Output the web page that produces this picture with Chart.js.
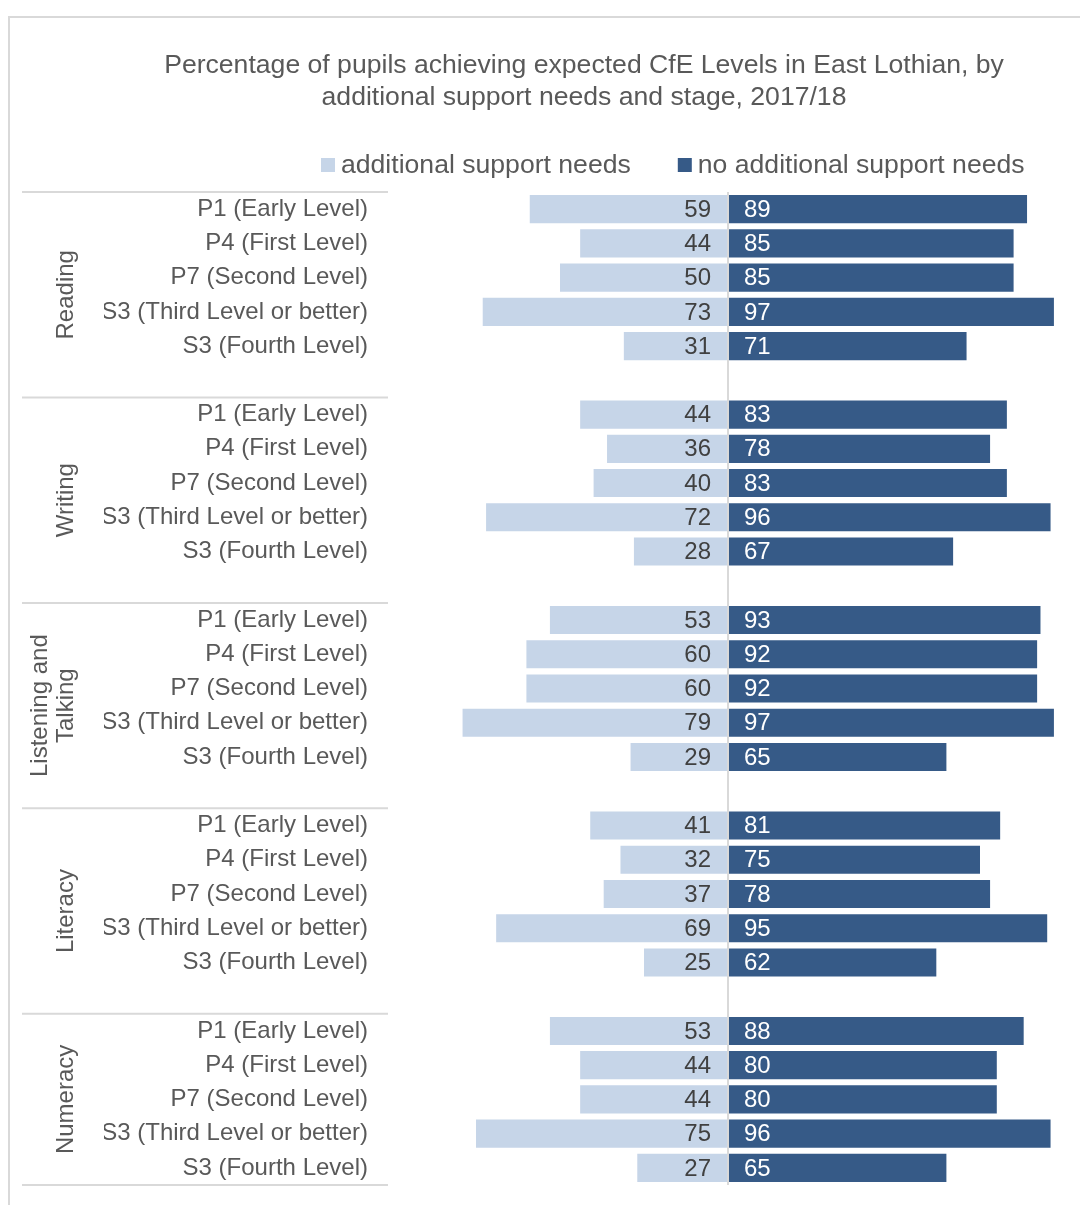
<!DOCTYPE html>
<html>
<head>
<meta charset="utf-8">
<script src="https://cdn.jsdelivr.net/npm/chart.js@4.4.1/dist/chart.umd.min.js"></script>
<style>
  html, body { margin: 0; padding: 0; background: #fff; }
</style>
</head>
<body>
<canvas id="cfeChart" width="1080" height="1205"></canvas>
<script>
const FONT = "'Liberation Sans', Arial, sans-serif";

const groups = ['Reading', 'Writing', ['Listening and', 'Talking'], 'Literacy', 'Numeracy'];
const stages = ['P1 (Early Level)', 'P4 (First Level)', 'P7 (Second Level)', 'S3 (Third Level or better)', 'S3 (Fourth Level)'];

// one row of 5 stages per group
const asnReading = [59, 44, 50, 73, 31];
const asnWriting = [44, 36, 40, 72, 28];
const asnListening = [53, 60, 60, 79, 29];
const asnLiteracy = [41, 32, 37, 69, 25];
const asnNumeracy = [53, 44, 44, 75, 27];

const noAsnReading = [89, 85, 85, 97, 71];
const noAsnWriting = [83, 78, 83, 96, 67];
const noAsnListening = [93, 92, 92, 97, 65];
const noAsnLiteracy = [81, 75, 78, 95, 62];
const noAsnNumeracy = [88, 80, 80, 96, 65];

const asnByGroup = [asnReading, asnWriting, asnListening, asnLiteracy, asnNumeracy];
const noAsnByGroup = [noAsnReading, noAsnWriting, noAsnListening, noAsnLiteracy, noAsnNumeracy];

const seriesNames = ['additional support needs', 'no additional support needs'];
const seriesColors = ['#c6d5e8', '#365a87'];

// flatten into rows, with an empty spacer row after every group but the last
const rowLabels = [];
const asnRows = [];
const noAsnRows = [];
const groupStarts = [];
groups.forEach((g, gi) => {
  groupStarts.push(rowLabels.length);
  stages.forEach((s, si) => {
    rowLabels.push(s);
    asnRows.push(-asnByGroup[gi][si]);
    noAsnRows.push(noAsnByGroup[gi][si]);
  });
  if (gi < groups.length - 1) {
    rowLabels.push('');
    asnRows.push(null);
    noAsnRows.push(null);
  }
});

const decorPlugin = {
  id: 'decor',
  beforeDraw(chart) {
    const ctx = chart.ctx;
    ctx.save();
    ctx.strokeStyle = '#d9d9d9';
    ctx.lineWidth = 2;
    ctx.strokeRect(9, 17, 1200, 1300);
    ctx.restore();
  },
  afterDatasetsDraw(chart) {
    const ctx = chart.ctx;
    const x = chart.scales.x;
    const y = chart.scales.y;
    const area = chart.chartArea;
    const zero = x.getPixelForValue(0);
    const rowH = (area.bottom - area.top) / rowLabels.length;

    ctx.save();
    // centre line
    ctx.strokeStyle = '#d9d9d9';
    ctx.lineWidth = 2;
    ctx.beginPath();
    ctx.moveTo(zero, area.top);
    ctx.lineTo(zero, area.bottom);
    ctx.stroke();

    // value labels
    ctx.font = '24px ' + FONT;
    ctx.textBaseline = 'middle';
    chart.getDatasetMeta(0).data.forEach((bar, i) => {
      if (asnRows[i] == null) return;
      ctx.fillStyle = '#404040';
      ctx.textAlign = 'right';
      ctx.fillText(String(Math.abs(asnRows[i])), zero - 17, bar.y + 1);
    });
    chart.getDatasetMeta(1).data.forEach((bar, i) => {
      if (noAsnRows[i] == null) return;
      ctx.fillStyle = '#ffffff';
      ctx.textAlign = 'left';
      ctx.fillText(String(noAsnRows[i]), zero + 16, bar.y + 1);
    });

    // group separators and group names
    const bounds = groupStarts.map(s => y.getPixelForValue(s) - rowH / 2);
    bounds.push(area.bottom);
    ctx.strokeStyle = '#d9d9d9';
    ctx.lineWidth = 2;
    bounds.forEach(b => {
      ctx.beginPath();
      ctx.moveTo(22, b);
      ctx.lineTo(388, b);
      ctx.stroke();
    });
    ctx.fillStyle = '#595959';
    ctx.textAlign = 'center';
    groups.forEach((g, gi) => {
      const lines = Array.isArray(g) ? g : [g];
      const cy = (bounds[gi] + bounds[gi + 1]) / 2;
      const cx = 66 - (lines.length - 1) * 13;
      ctx.save();
      ctx.translate(cx, cy);
      ctx.rotate(-Math.PI / 2);
      lines.forEach((l, li) => {
        ctx.fillText(l, 0, (li - (lines.length - 1) / 2) * 26);
      });
      ctx.restore();
    });

    // legend
    ctx.font = '26.6px ' + FONT;
    ctx.textAlign = 'left';
    let lx = 321;
    seriesNames.forEach((name, i) => {
      ctx.fillStyle = seriesColors[i];
      ctx.fillRect(lx, 158, 14, 14);
      ctx.fillStyle = '#595959';
      ctx.fillText(name, lx + 20, 166);
      lx += 20 + ctx.measureText(name).width + 47;
    });
    ctx.restore();
  }
};

new Chart(document.getElementById('cfeChart'), {
  type: 'bar',
  data: {
    labels: rowLabels,
    datasets: [
      { label: seriesNames[0], data: asnRows, backgroundColor: seriesColors[0] },
      { label: seriesNames[1], data: noAsnRows, backgroundColor: seriesColors[1] }
    ]
  },
  options: {
    indexAxis: 'y',
    responsive: false,
    animation: false,
    categoryPercentage: 1,
    barPercentage: 0.82,
    layout: { padding: { top: 10, left: 104, right: 16, bottom: 20 } },
    plugins: {
      legend: { display: false },
      tooltip: { enabled: false },
      title: {
        display: true,
        text: ['Percentage of pupils achieving expected CfE Levels in East Lothian, by',
               'additional support needs and stage, 2017/18'],
        color: '#595959',
        font: { size: 26.6, family: FONT, weight: 'normal', lineHeight: 1.2 },
        padding: { top: 40, bottom: 78.2 }
      }
    },
    scales: {
      x: { stacked: true, min: -100, max: 100, display: false },
      y: {
        stacked: true,
        grid: { display: false, drawTicks: false },
        border: { display: false },
        ticks: { color: '#595959', font: { size: 24, family: FONT }, padding: 24, autoSkip: false },
        afterFit(scale) {
          scale.width = 288;
          scale.paddingTop = 0;
          scale.paddingBottom = 0;
        }
      }
    }
  },
  plugins: [decorPlugin]
});
</script>
</body>
</html>
